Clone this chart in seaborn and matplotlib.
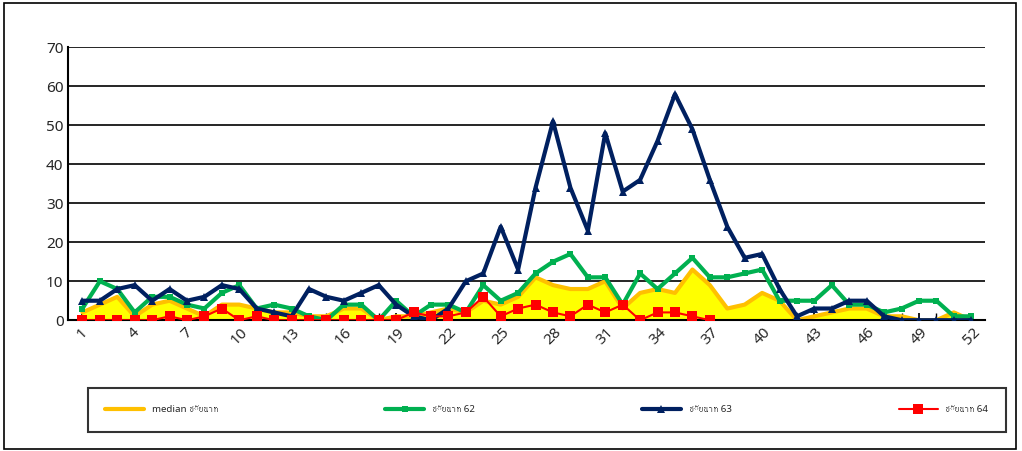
import numpy as np
import pandas as pd
import matplotlib
matplotlib.use("Agg")
import matplotlib.pyplot as plt
from matplotlib import font_manager, ft2font
import seaborn as sns

weeks = list(range(1, 53))
median_cn = [2, 4, 6, 1, 4, 5, 3, 1, 4, 4, 3, 2, 2, 1, 1, 3, 3, 0, 1, 1, 2, 3, 2, 5, 4, 6,
             11, 9, 8, 8, 10, 3, 7, 8, 7, 13, 9, 3, 4, 7, 5, 0, 1, 2, 3, 3, 1, 1, 0, 0, 2, 0]
cn62 = [3, 10, 8, 2, 6, 6, 4, 3, 7, 9, 3, 4, 3, 1, 0, 4, 4, 0, 5, 1, 4, 4, 2, 9, 5, 7,
        12, 15, 17, 11, 11, 4, 12, 8, 12, 16, 11, 11, 12, 13, 5, 5, 5, 9, 4, 4, 2, 3, 5, 5, 1, 1]
cn63 = [5, 5, 8, 9, 5, 8, 5, 6, 9, 8, 3, 2, 1, 8, 6, 5, 7, 9, 4, 1, 0, 3, 10, 12, 24, 13,
        34, 51, 34, 23, 48, 33, 36, 46, 58, 49, 36, 24, 16, 17, 8, 1, 3, 3, 5, 5, 1, 0, 0, 0, 0, 0]
cn64 = [0, 0, 0, 0, 0, 1, 0, 1, 3, 0, 1, 0, 0, 0, 0, 0, 0, 0, 0, 2, 1, 1, 2, 6, 1, 3,
        4, 2, 1, 4, 2, 4, 0, 2, 2, 1, 0] + [np.nan] * 15

df = pd.DataFrame({"week": weeks, "median": median_cn, "c62": cn62, "c63": cn63, "c64": cn64})

# look for an installed family that has Thai glyphs
thai_family = None
for path in font_manager.findSystemFonts():
    try:
        if 0x0E0A in ft2font.FT2Font(path).get_charmap():
            thai_family = font_manager.FontProperties(fname=path).get_name()
            break
    except Exception:
        pass

sns.set_theme(style="white")
fams = ["Noto Sans", "DejaVu Sans"]
if thai_family:
    fams.append(thai_family)
plt.rcParams["font.family"] = fams

fig = plt.figure(figsize=(10.22, 4.51), dpi=100)
ax = fig.add_axes([0.067, 0.29, 0.897, 0.605])

ax.fill_between(df["week"], df["median"], color="#ffff00", zorder=1)
ax.plot(df["week"], df["median"], color="#ffc000", lw=3, zorder=2, label="median ชัยนาท")
sns.lineplot(data=df, x="week", y="c62", ax=ax, color="#00b050", lw=3, marker="s",
             markersize=5, markeredgewidth=0, label="ชัยนาท 62", zorder=3)
sns.lineplot(data=df, x="week", y="c63", ax=ax, color="#002060", lw=3, marker="^",
             markersize=6, markeredgewidth=0, label="ชัยนาท 63", zorder=4)
sns.lineplot(data=df, x="week", y="c64", ax=ax, color="#ff0000", lw=1.5, marker="s",
             markersize=7, markeredgewidth=0, label="ชัยนาท 64", zorder=5)

ax.set_xlim(0.2, 52.8)
ax.set_ylim(0, 70)
ax.set_yticks(range(0, 71, 10))
ax.yaxis.grid(True, color="black", lw=1.2)
ax.set_xticks(weeks, minor=True)
ax.set_xticks(weeks[::3])
ax.set_xticklabels([str(w) for w in weeks[::3]], rotation=45, fontsize=11)
ax.tick_params(axis="y", labelsize=11, length=0)
ax.tick_params(axis="x", which="both", direction="in", length=5, bottom=True, color="black")
ax.set_xlabel("")
ax.set_ylabel("")
for s in ["top", "right"]:
    ax.spines[s].set_visible(False)
for s in ["left", "bottom"]:
    ax.spines[s].set_color("black")
    ax.spines[s].set_linewidth(1.5)

h, l = ax.get_legend_handles_labels()
ax.get_legend().remove()
leg = fig.legend(h, l, loc="center", bbox_to_anchor=(0.535, 0.092), ncol=4,
                 fontsize=7, frameon=True, fancybox=False, edgecolor="black",
                 borderpad=1.8, borderaxespad=0, columnspacing=17.2, handlelength=4)
leg.get_frame().set_linewidth(1.5)

fig.patches.append(plt.Rectangle((0.004, 0.004), 0.99, 0.99, transform=fig.transFigure,
                                 fill=False, edgecolor="black", lw=1.2))
fig.savefig("out.png", dpi=100)
